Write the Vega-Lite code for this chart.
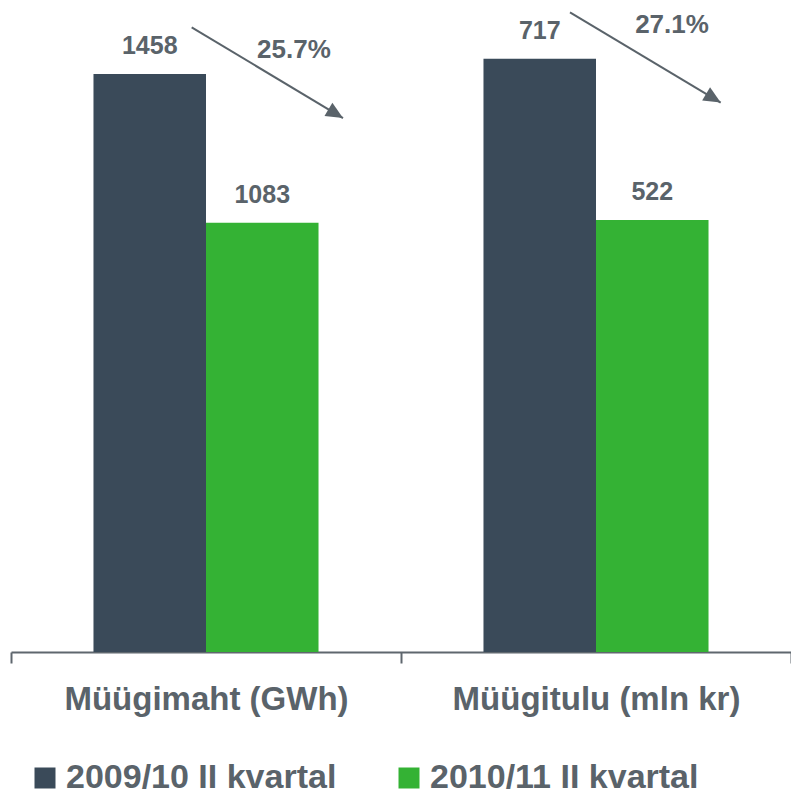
{
  "$schema": "https://vega.github.io/schema/vega-lite/v6.json",
  "width": 780,
  "height": 652,
  "autosize": "none",
  "padding": {"left": 11, "top": 0, "right": 0, "bottom": 142},
  "config": {"view": {"stroke": null}},
  "datasets": {
    "bars": [
      {"group": "Müügimaht (GWh)", "series": "2009/10 II kvartal", "value": 1458},
      {"group": "Müügimaht (GWh)", "series": "2010/11 II kvartal", "value": 1083},
      {"group": "Müügitulu (mln kr)", "series": "2009/10 II kvartal", "value": 717},
      {"group": "Müügitulu (mln kr)", "series": "2010/11 II kvartal", "value": 522}
    ],
    "arrows": [
      {"group": "Müügimaht (GWh)", "x": 0.4633, "y": 1576, "x2": 0.8513, "y2": 1347, "label": "25.7%", "lx": 0.7256, "ly": 1498},
      {"group": "Müügitulu (mln kr)", "x": 1.4333, "y": 773, "x2": 1.8197, "y2": 664, "label": "27.1%", "lx": 1.6949, "ly": 748}
    ]
  },
  "layer": [
    {
      "data": {"name": "bars"},
      "transform": [{"filter": "datum.group === 'Müügimaht (GWh)'"}],
      "encoding": {
        "x": {
          "field": "group", "type": "nominal", "sort": null,
          "scale": {"domain": ["Müügimaht (GWh)", "Müügitulu (mln kr)"], "paddingInner": 0, "paddingOuter": 0},
          "axis": {"title": null, "labelAngle": 0, "labelLimit": 0, "domainColor": "#5f676e", "domainWidth": 2, "tickColor": "#5f676e", "tickWidth": 2, "tickSize": 11, "tickBand": "extent", "labelFontSize": 33, "labelFont": "Liberation Sans", "labelFontWeight": "bold", "labelColor": "#5a636a", "labelPadding": 20}
        },
        "xOffset": {"field": "series", "type": "nominal", "scale": {"domain": ["2009/10 II kvartal", "2010/11 II kvartal"], "paddingInner": 0, "paddingOuter": 0.733}},
        "y": {"field": "value", "type": "quantitative", "scale": {"domain": [0, 1645], "nice": false}, "axis": null}
      },
      "layer": [
        {
          "mark": {"type": "bar"},
          "encoding": {
            "color": {
              "field": "series", "type": "nominal",
              "scale": {"domain": ["2009/10 II kvartal", "2010/11 II kvartal"], "range": ["#3a4a59", "#34b234"]},
              "legend": {"orient": "none", "legendX": 17, "legendY": 761, "direction": "horizontal", "title": null, "symbolType": "square", "symbolSize": 441, "symbolStrokeWidth": 0, "symbolOpacity": 1, "labelFontSize": 34, "labelLimit": 0, "labelFont": "Liberation Sans", "labelFontWeight": "bold", "labelColor": "#5a636a", "labelOffset": 4, "columnPadding": 55, "padding": 0}
            }
          }
        },
        {
          "mark": {"type": "text", "baseline": "alphabetic", "dy": -20, "fontSize": 25, "font": "Liberation Sans", "fontWeight": "bold", "color": "#5a636a"},
          "encoding": {"text": {"field": "value", "type": "quantitative"}}
        }
      ]
    },
    {
      "data": {"name": "bars"},
      "transform": [{"filter": "datum.group === 'Müügitulu (mln kr)'"}],
      "encoding": {
        "x": {
          "field": "group", "type": "nominal", "sort": null,
          "scale": {"domain": ["Müügimaht (GWh)", "Müügitulu (mln kr)"], "paddingInner": 0, "paddingOuter": 0},
          "axis": null
        },
        "xOffset": {"field": "series", "type": "nominal", "scale": {"domain": ["2009/10 II kvartal", "2010/11 II kvartal"], "paddingInner": 0, "paddingOuter": 0.733}},
        "y": {"field": "value", "type": "quantitative", "scale": {"domain": [0, 788], "nice": false}, "axis": null}
      },
      "layer": [
        {
          "mark": {"type": "bar"},
          "encoding": {"color": {"field": "series", "type": "nominal"}}
        },
        {
          "mark": {"type": "text", "baseline": "alphabetic", "dy": -20, "fontSize": 25, "font": "Liberation Sans", "fontWeight": "bold", "color": "#5a636a"},
          "encoding": {"text": {"field": "value", "type": "quantitative"}}
        }
      ]
    },
    {
      "data": {"name": "arrows"},
      "transform": [{"filter": "datum.group === 'Müügimaht (GWh)'"}],
      "layer": [
        {
          "mark": {"type": "rule", "color": "#5a636a", "strokeWidth": 2},
          "encoding": {
            "x": {"field": "x", "type": "quantitative", "scale": {"domain": [0, 2], "nice": false}, "axis": null},
            "x2": {"field": "x2"},
            "y": {"field": "y", "type": "quantitative", "scale": {"domain": [0, 1645], "nice": false}, "axis": null},
            "y2": {"field": "y2"}
          }
        },
        {
          "mark": {"type": "point", "shape": "M0,0L-1,-0.45L-1,0.45Z", "size": 1156, "angle": 31, "filled": true, "color": "#5a636a", "opacity": 1, "strokeWidth": 0},
          "encoding": {
            "x": {"field": "x2", "type": "quantitative"},
            "y": {"field": "y2", "type": "quantitative"}
          }
        },
        {
          "mark": {"type": "text", "baseline": "alphabetic", "fontSize": 26, "font": "Liberation Sans", "fontWeight": "bold", "color": "#5a636a"},
          "encoding": {
            "x": {"field": "lx", "type": "quantitative"},
            "y": {"field": "ly", "type": "quantitative"},
            "text": {"field": "label"}
          }
        }
      ]
    },
    {
      "data": {"name": "arrows"},
      "transform": [{"filter": "datum.group === 'Müügitulu (mln kr)'"}],
      "layer": [
        {
          "mark": {"type": "rule", "color": "#5a636a", "strokeWidth": 2},
          "encoding": {
            "x": {"field": "x", "type": "quantitative", "scale": {"domain": [0, 2], "nice": false}, "axis": null},
            "x2": {"field": "x2"},
            "y": {"field": "y", "type": "quantitative", "scale": {"domain": [0, 788], "nice": false}, "axis": null},
            "y2": {"field": "y2"}
          }
        },
        {
          "mark": {"type": "point", "shape": "M0,0L-1,-0.45L-1,0.45Z", "size": 1156, "angle": 31, "filled": true, "color": "#5a636a", "opacity": 1, "strokeWidth": 0},
          "encoding": {
            "x": {"field": "x2", "type": "quantitative"},
            "y": {"field": "y2", "type": "quantitative"}
          }
        },
        {
          "mark": {"type": "text", "baseline": "alphabetic", "fontSize": 26, "font": "Liberation Sans", "fontWeight": "bold", "color": "#5a636a"},
          "encoding": {
            "x": {"field": "lx", "type": "quantitative"},
            "y": {"field": "ly", "type": "quantitative"},
            "text": {"field": "label"}
          }
        }
      ]
    }
  ],
  "resolve": {"scale": {"x": "independent", "y": "independent"}}
}
